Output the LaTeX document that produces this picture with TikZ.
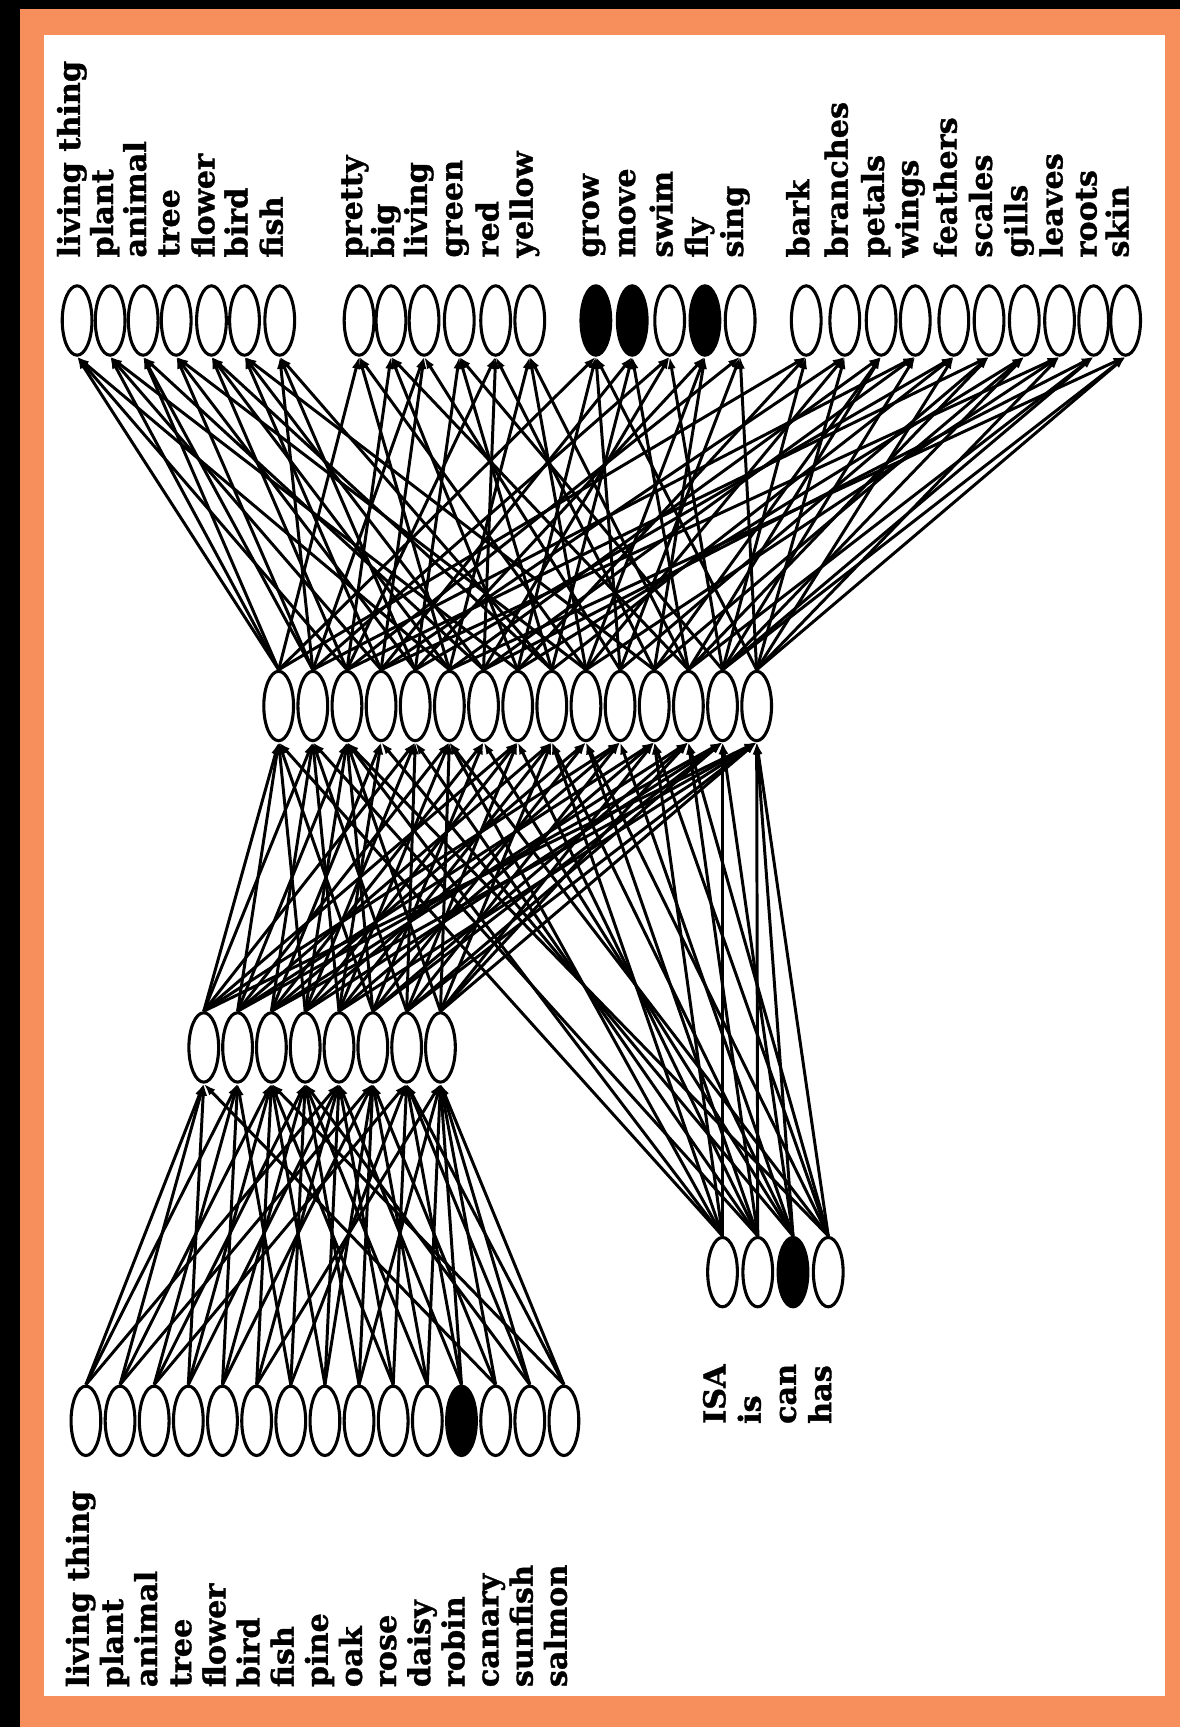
\documentclass[tikz,border=0pt]{standalone}
\usepackage{fontspec}
\setmainfont{DejaVu Serif}[BoldFeatures={FakeBold=1.2}]
\usetikzlibrary{shapes.geometric,arrows.meta}
\definecolor{frameorange}{RGB}{247,143,92}
\begin{document}
\begin{tikzpicture}[x=1pt,y=-1pt,
  unit/.style={ellipse,draw=black,line width=2.8pt,minimum width=27pt,minimum height=63pt,inner sep=0pt},
  lab/.style={rotate=90,anchor=mid west,inner sep=0pt,font=\fontsize{27.5}{30}\selectfont\bfseries},
  link/.style={line width=2.7pt,-{Latex[length=11pt,width=7.5pt]}}]
\useasboundingbox (0,0) rectangle (1071,1568);
\fill[frameorange] (0,0) rectangle (1071,1568);
\fill[black] (0,0) rectangle (18,1568);
\fill[black] (0,0) rectangle (1071,8);
\fill[white] (40,32) rectangle (1058,1540);

% output (attribute) units
\foreach \x/\t/\f [count=\i from 0] in {
  70/living thing/white,100/plant/white,130/animal/white,160/tree/white,192/flower/white,222/bird/white,254/fish/white,
  326/pretty/white,355/big/white,385/living/white,417/green/white,450/red/white,481/yellow/white,
  541/grow/black,574/move/black,608/swim/white,640/fly/black,672/sing/white,
  732/bark/white,767/branches/white,800/petals/white,831/wings/white,866/feathers/white,898/scales/white,930/gills/white,962/leaves/white,993/roots/white,1022/skin/white}{
  \node[unit,fill=\f] (o\i) at (\x,291) {};
  \node[lab] (lo\i) at (\x,234) {\t};
}

% hidden units
\foreach \i in {0,...,14}{
  \node[unit,fill=white] (h\i) at ({253+31*\i},641) {};
}

% representation units
\foreach \i in {0,...,7}{
  \node[unit,fill=white] (r\i) at ({185+30.7*\i},951) {};
}

% item input units
\foreach \t/\f [count=\i from 0] in {
  living thing/white,plant/white,animal/white,tree/white,flower/white,bird/white,fish/white,
  pine/white,oak/white,rose/white,daisy/white,robin/black,canary/white,sunfish/white,salmon/white}{
  \node[unit,fill=\f] (i\i) at ({78+31*\i},1290) {};
  \node[lab] (li\i) at ({78+31*\i},1532) {\t};
}

% relation input units
\foreach \x/\t/\f [count=\i from 0] in {656/ISA/white,688/is/white,720/can/black,752/has/white}{
  \node[unit,fill=\f] (q\i) at (\x,1155) {};
  \node[lab] (lq\i) at (\x,1293) {\t};
}

% item -> representation
\foreach \s/\ts in {0/{0,1,4},1/{0,2,5},2/{1,3,6},3/{0,2,4},4/{1,3,5},5/{2,4,7},6/{1,3,6},7/{2,4,5},
  8/{3,5,7},9/{2,4,6},10/{3,5,7},11/{4,6,7},12/{0,5,7},13/{3,6,7},14/{2,6,7}}{
  \foreach \t in \ts { \draw[link] (i\s.north) -- (r\t.south); }
}

% representation -> hidden
\foreach \s/\ts in {0/{0,1,4,7,10,14},1/{0,2,5,8,11,13},2/{1,3,6,9,12,14},3/{0,2,4,7,10,13},
  4/{1,3,5,8,11,14},5/{0,2,6,9,12,13},6/{1,4,7,10,13,14},7/{2,5,8,11,12,14}}{
  \foreach \t in \ts { \draw[link] (r\s.north) -- (h\t.south); }
}

% relation -> hidden
\foreach \s/\ts in {0/{0,2,5,8,11,13},1/{1,4,7,9,12,14},2/{3,6,8,10,13,14},3/{2,5,9,11,12,14}}{
  \foreach \t in \ts { \draw[link] (q\s.north) -- (h\t.south); }
}

% hidden -> output
\foreach \t/\ss in {0/{0,2,5},1/{0,3,7},2/{0,1,6},3/{1,4,9},4/{2,5,8},5/{3,6,11},6/{1,4,8},
  7/{0,5,9},8/{2,7,12},9/{1,3,10},10/{4,8,13},11/{2,6,11},12/{5,9,12},
  13/{0,7,10,14},14/{3,8,12},15/{1,6,13},16/{4,9,11},17/{2,10,14},
  18/{0,7,13},19/{3,9,14},20/{5,11,12},21/{1,6,13},22/{4,8,14},23/{2,10,12},24/{7,11,13},25/{3,9,14},26/{6,12,13},27/{5,13,14}}{
  \foreach \s in \ss { \draw[link] (h\s.north) -- (o\t.south); }
}
\end{tikzpicture}
\end{document}
